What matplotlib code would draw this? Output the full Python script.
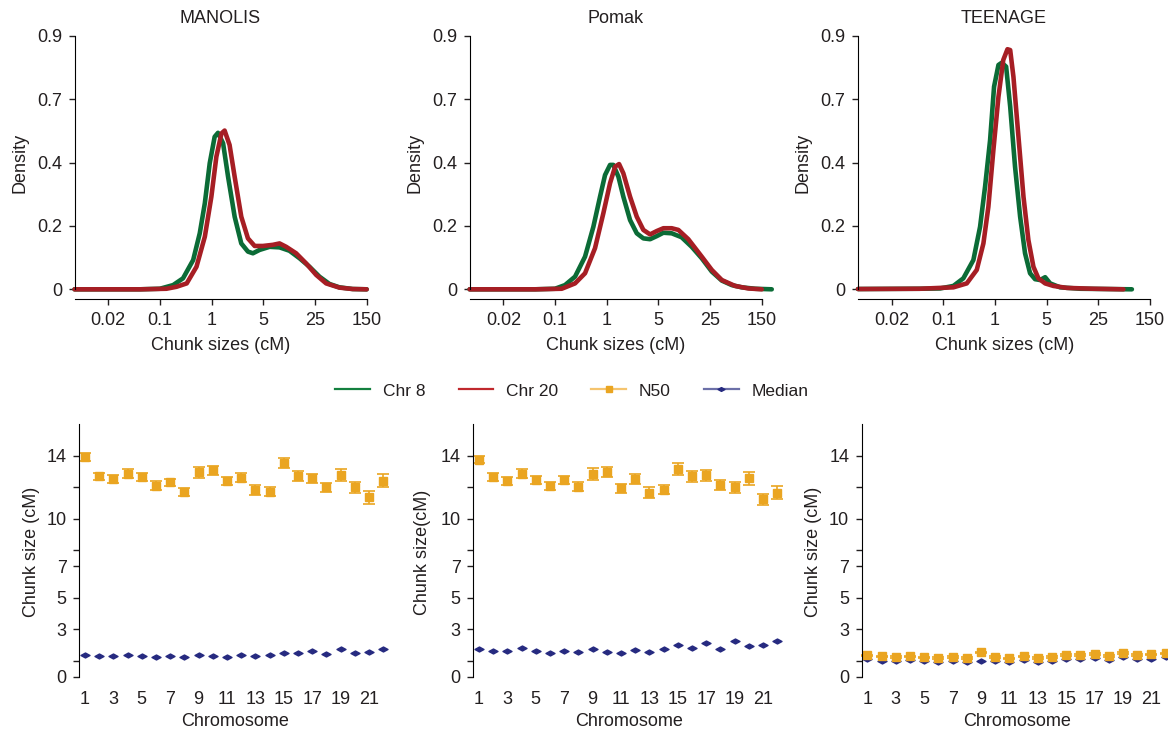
import numpy as np
import matplotlib
matplotlib.use('Agg')
import matplotlib.pyplot as plt
from matplotlib.lines import Line2D
from matplotlib.path import Path

plt.rcParams['font.family'] = ['Liberation Sans', 'DejaVu Sans']
plt.rcParams['text.color'] = '#231f20'
plt.rcParams['axes.labelcolor'] = '#231f20'
plt.rcParams['xtick.color'] = '#231f20'
plt.rcParams['ytick.color'] = '#231f20'

# %% data
cohorts = ['MANOLIS', 'Pomak', 'TEENAGE']

x_ticks = [0.02, 0.1, 1, 5, 25, 150]
x_ticklabels = ['0.02', '0.1', '1', '5', '25', '150']
dens_ticks = [0, 0.225, 0.45, 0.675, 0.9]
dens_ticklabels = ['0', '0.2', '0.4', '0.7', '0.9']

manolis_chr8_x = [0.007, 0.054, 0.1, 0.18, 0.28, 0.44, 0.59, 0.74, 0.92, 1.10, 1.22, 1.43, 1.67, 2.05, 2.52,
                  3.10, 3.62, 4.46, 6.09, 8.30, 11.3, 15.5, 21.1, 29.2, 41.3, 58.3, 92.5, 150]
manolis_chr8_y = [0, 0, 0.002, 0.015, 0.039, 0.104, 0.199, 0.306, 0.448, 0.542, 0.556, 0.519, 0.40, 0.258, 0.163,
                  0.134, 0.128, 0.140, 0.151, 0.149, 0.137, 0.110, 0.080, 0.045, 0.019, 0.007, 0.001, 0]
manolis_chr20_x = [0.007, 0.054, 0.134, 0.21, 0.33, 0.51, 0.74, 0.99, 1.16, 1.36, 1.50, 1.75, 2.05, 2.52, 3.10,
                   3.82, 4.94, 6.73, 8.30, 10.2, 13.9, 19.0, 26.1, 36.8, 58.3, 92.5, 150]
manolis_chr20_y = [0, 0, 0.002, 0.009, 0.021, 0.080, 0.187, 0.329, 0.471, 0.554, 0.564, 0.513, 0.40, 0.258, 0.181,
                   0.154, 0.154, 0.158, 0.163, 0.151, 0.128, 0.092, 0.051, 0.021, 0.006, 0.001, 0]

pomak_chr8_x = [0.007, 0.054, 0.1, 0.156, 0.244, 0.381, 0.552, 0.743, 0.929, 1.11, 1.23, 1.44, 1.68, 2.07, 2.55,
                3.13, 3.86, 4.75, 5.84, 7.57, 10.3, 14.1, 19.3, 26.5, 37.5, 53.0, 75.0, 119, 212]
pomak_chr8_y = [0, 0, 0.002, 0.015, 0.045, 0.116, 0.222, 0.329, 0.406, 0.442, 0.442, 0.40, 0.329, 0.246, 0.199,
                0.181, 0.178, 0.189, 0.201, 0.199, 0.185, 0.151, 0.110, 0.063, 0.031, 0.015, 0.007, 0.002, 0]
pomak_chr20_x = [0.007, 0.054, 0.135, 0.244, 0.381, 0.594, 0.861, 1.11, 1.30, 1.47, 1.68, 2.07, 2.55, 3.13, 3.86,
                 4.75, 5.84, 7.57, 9.31, 12.7, 19.3, 26.5, 37.5, 59.4, 94.4, 150]
pomak_chr20_y = [0, 0, 0.002, 0.021, 0.057, 0.146, 0.270, 0.377, 0.436, 0.445, 0.412, 0.329, 0.258, 0.211, 0.195,
                 0.207, 0.217, 0.217, 0.211, 0.178, 0.116, 0.069, 0.033, 0.012, 0.003, 0]

teenage_chr8_x = [0.007, 0.048, 0.090, 0.156, 0.243, 0.380, 0.512, 0.640, 0.80, 0.955, 1.11, 1.23, 1.41, 1.60,
                  1.86, 2.18, 2.54, 2.97, 3.47, 4.06, 4.75, 5.55, 7.57, 14.1, 33.4, 79.6]
teenage_chr8_y = [0.001, 0.002, 0.003, 0.012, 0.039, 0.104, 0.222, 0.365, 0.530, 0.720, 0.797, 0.805, 0.791, 0.649,
                  0.436, 0.258, 0.128, 0.057, 0.036, 0.033, 0.043, 0.021, 0.007, 0.002, 0.001, 0]
teenage_chr20_x = [0.007, 0.048, 0.156, 0.283, 0.442, 0.594, 0.741, 0.927, 1.11, 1.29, 1.47, 1.60, 1.77, 2.07,
                   2.42, 2.82, 3.30, 3.85, 4.75, 6.14, 9.33, 21.4, 59.4]
teenage_chr20_y = [0.001, 0.002, 0.007, 0.021, 0.069, 0.163, 0.293, 0.495, 0.684, 0.815, 0.853, 0.85, 0.755, 0.542,
                   0.329, 0.175, 0.080, 0.039, 0.021, 0.012, 0.005, 0.002, 0]

chromosomes = list(range(1, 23))
chrom_ticks = list(range(1, 22, 2))
size_ticks = [0, 1, 3, 5, 7, 8, 10, 12, 14]
size_ticklabels = ['0', '', '3', '5', '7', '', '10', '', '14']

manolis_n50 = [13.92, 12.69, 12.52, 12.86, 12.65, 12.10, 12.31, 11.68, 12.95, 13.07, 12.40,
               12.61, 11.81, 11.72, 13.54, 12.69, 12.55, 11.98, 12.76, 11.98, 11.35, 12.40]
manolis_n50_err = [0.24, 0.23, 0.25, 0.27, 0.23, 0.26, 0.22, 0.26, 0.34, 0.30, 0.25,
                   0.28, 0.30, 0.28, 0.33, 0.32, 0.31, 0.31, 0.36, 0.34, 0.40, 0.41]
manolis_median = [1.37, 1.31, 1.33, 1.37, 1.29, 1.25, 1.33, 1.25, 1.35, 1.31, 1.22,
                  1.35, 1.31, 1.37, 1.52, 1.50, 1.60, 1.44, 1.77, 1.50, 1.56, 1.73]

pomak_n50 = [13.75, 12.65, 12.38, 12.86, 12.48, 12.08, 12.44, 12.04, 12.86, 12.95, 11.92,
             12.52, 11.66, 11.85, 13.16, 12.69, 12.76, 12.13, 11.98, 12.55, 11.22, 11.66]
pomak_n50_err = [0.25, 0.25, 0.24, 0.28, 0.25, 0.27, 0.26, 0.30, 0.38, 0.30, 0.28,
                 0.34, 0.35, 0.30, 0.38, 0.35, 0.34, 0.34, 0.34, 0.42, 0.32, 0.41]
pomak_median = [1.73, 1.64, 1.62, 1.79, 1.62, 1.52, 1.60, 1.56, 1.73, 1.58, 1.48,
                1.69, 1.56, 1.75, 1.98, 1.83, 2.11, 1.75, 2.24, 1.94, 1.98, 2.24]

teenage_n50 = [1.35, 1.29, 1.24, 1.29, 1.22, 1.18, 1.24, 1.18, 1.54, 1.26, 1.16,
               1.29, 1.18, 1.26, 1.39, 1.37, 1.43, 1.31, 1.50, 1.37, 1.41, 1.48]
teenage_n50_err = [0.05] * 22
teenage_median = [1.10, 0.99, 1.01, 1.03, 0.99, 0.95, 0.99, 0.93, 1.01, 0.99, 0.95,
                  1.03, 0.95, 1.01, 1.12, 1.12, 1.18, 1.08, 1.26, 1.14, 1.12, 1.22]

# %% axis scale: tick labels are evenly spaced on a piecewise log axis
lk = np.log10(x_ticks)
pos = np.arange(len(x_ticks), dtype=float)


def fwd(x):
    lx = np.log10(np.clip(np.asarray(x, dtype=float), 1e-9, None))
    p = np.interp(lx, lk, pos)
    p = np.where(lx < lk[0], (lx - lk[0]) / (lk[1] - lk[0]), p)
    p = np.where(lx > lk[-1], pos[-1] + (lx - lk[-1]) / (lk[-1] - lk[-2]), p)
    return p


def inv(p):
    p = np.asarray(p, dtype=float)
    lx = np.interp(p, pos, lk)
    lx = np.where(p < 0, lk[0] + p * (lk[1] - lk[0]), lx)
    lx = np.where(p > pos[-1], lk[-1] + (p - pos[-1]) * (lk[-1] - lk[-2]), lx)
    return 10 ** lx


GREEN = '#0b6b36'
RED = '#a61e24'
ORANGE = '#eaa521'
NAVY = '#262a80'
flat_diamond = Path([(-1, 0), (0, 0.55), (1, 0), (0, -0.55), (-1, 0)],
                    [Path.MOVETO, Path.LINETO, Path.LINETO, Path.LINETO, Path.CLOSEPOLY])

W, H = 1168, 731
fig = plt.figure(figsize=(W / 100, H / 100), dpi=100)

dens = [(manolis_chr8_x, manolis_chr8_y, manolis_chr20_x, manolis_chr20_y),
        (pomak_chr8_x, pomak_chr8_y, pomak_chr20_x, pomak_chr20_y),
        (teenage_chr8_x, teenage_chr8_y, teenage_chr20_x, teenage_chr20_y)]
top_lefts = [74.5, 469.6, 858.0]
for i, (x8, y8, x20, y20) in enumerate(dens):
    ax = fig.add_axes([top_lefts[i] / W, 1 - 299.3 / H, 304.5 / W, 263.3 / H])
    ax.set_xscale('function', functions=(fwd, inv))
    ax.plot(x8, y8, color=GREEN, lw=3.3, solid_capstyle='round', solid_joinstyle='round', clip_on=False)
    ax.plot(x20, y20, color=RED, lw=3.3, solid_capstyle='round', solid_joinstyle='round', clip_on=False)
    ax.set_xlim(0.007, 230)
    ax.set_ylim(-0.0355, 0.9)
    ax.set_xticks(x_ticks)
    ax.set_xticklabels(x_ticklabels)
    ax.xaxis.set_minor_locator(matplotlib.ticker.NullLocator())
    ax.set_yticks(dens_ticks)
    ax.set_yticklabels(dens_ticklabels)
    for s in ['top', 'right']:
        ax.spines[s].set_visible(False)
    ax.spines['left'].set_bounds(0, 0.9)
    ax.spines['bottom'].set_bounds(0.007, 150)
    ax.tick_params(labelsize=13, length=4, width=1, pad=5)
    ax.set_xlabel('Chunk sizes (cM)', fontsize=13)
    ax.xaxis.set_label_coords(0.48, -0.174)
    ax.xaxis.label.set_va('center')
    ax.set_ylabel('Density', fontsize=13)
    ax.yaxis.set_label_coords(-0.18, 0.518)
    ax.yaxis.label.set_va('center')
    ax.text(0.478, 1.0646, cohorts[i], transform=ax.transAxes, ha='center', va='center', fontsize=13)

sizes = [(manolis_n50, manolis_n50_err, manolis_median),
         (pomak_n50, pomak_n50_err, pomak_median),
         (teenage_n50, teenage_n50_err, teenage_median)]
ylabels = ['Chunk size (cM)', 'Chunk size(cM)', 'Chunk size (cM)']
bot_lefts = [79.3, 473.3, 861.7]
ylab_x = [-0.154, -0.165, -0.156]
for i, (n50, err, med) in enumerate(sizes):
    ax = fig.add_axes([bot_lefts[i] / W, 1 - 676.7 / H, 309.6 / W, 252.7 / H])
    ax.errorbar(chromosomes, n50, yerr=err, fmt='s', color=ORANGE, ms=5.5, ecolor=ORANGE,
                elinewidth=1.2, capsize=4.5, capthick=1.2, clip_on=False)
    ax.plot(chromosomes, med, ls='none', marker=flat_diamond, ms=6.5, color=NAVY, clip_on=False)
    ax.set_xlim(0.6, 22.4)
    ax.set_ylim(0, 16)
    ax.set_xticks(chrom_ticks)
    ax.set_yticks(size_ticks)
    ax.set_yticklabels(size_ticklabels)
    for s in ['top', 'right', 'bottom']:
        ax.spines[s].set_visible(False)
    ax.tick_params(axis='y', labelsize=13, length=4, width=1, pad=5)
    ax.tick_params(axis='x', labelsize=13, length=0, pad=10.5)
    ax.set_xlabel('Chromosome', fontsize=13)
    ax.xaxis.set_label_coords(0.503, -0.178)
    ax.xaxis.label.set_va('center')
    ax.set_ylabel(ylabels[i], fontsize=13)
    ax.yaxis.set_label_coords(ylab_x[i], 0.4935)
    ax.yaxis.label.set_va('center')

handles = [Line2D([], [], color='#13803f', lw=1.6),
           Line2D([], [], color='#c0282d', lw=1.6),
           Line2D([], [], color='#f5c46e', lw=1.6, marker='s', ms=5, mfc=ORANGE, mec=ORANGE),
           Line2D([], [], color='#6c70a8', lw=1.6, marker=flat_diamond, ms=5, mfc=NAVY, mec=NAVY)]
fig.legend(handles, ['Chr 8', 'Chr 20', 'N50', 'Median'], loc='center', ncol=4,
           bbox_to_anchor=(572 / W, 1 - 391 / H), frameon=False, fontsize=12.5,
           handlelength=2.0, handletextpad=0.75, columnspacing=1.9)

fig.savefig('out.png', dpi=100)
